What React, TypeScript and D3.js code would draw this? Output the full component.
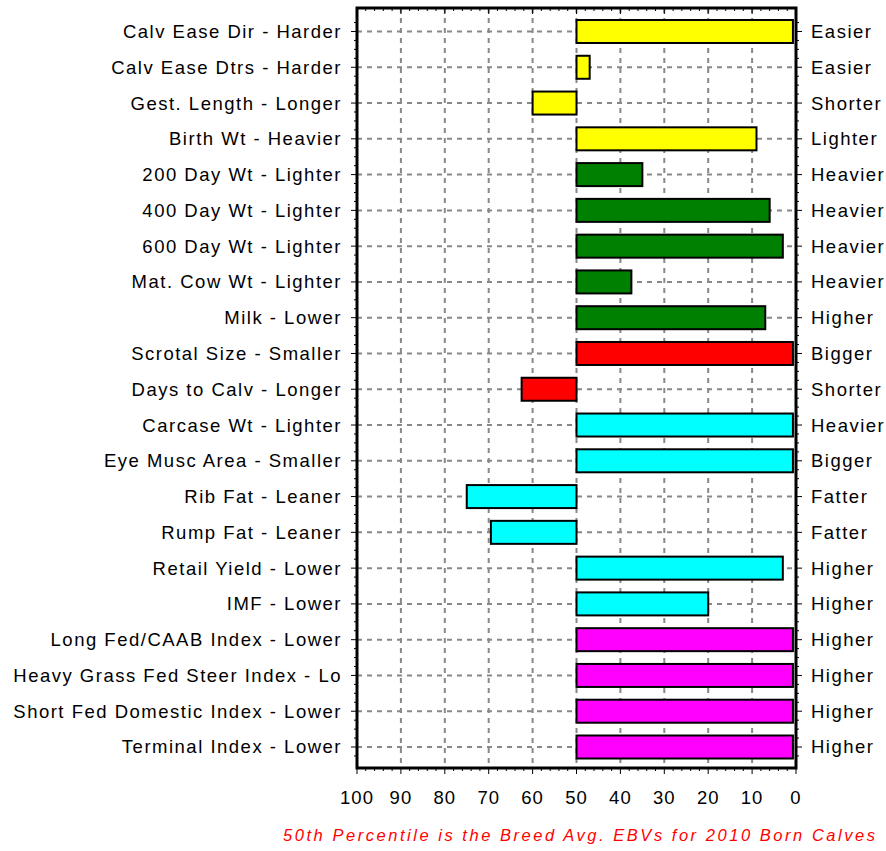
import React, { useEffect, useRef } from "react";
import * as d3 from "d3";

const traits = [
  "Calv Ease Dir - Harder",
  "Calv Ease Dtrs - Harder",
  "Gest. Length - Longer",
  "Birth Wt - Heavier",
  "200 Day Wt - Lighter",
  "400 Day Wt - Lighter",
  "600 Day Wt - Lighter",
  "Mat. Cow Wt - Lighter",
  "Milk - Lower",
  "Scrotal Size - Smaller",
  "Days to Calv - Longer",
  "Carcase Wt - Lighter",
  "Eye Musc Area - Smaller",
  "Rib Fat - Leaner",
  "Rump Fat - Leaner",
  "Retail Yield - Lower",
  "IMF - Lower",
  "Long Fed/CAAB Index - Lower",
  "Heavy Grass Fed Steer Index - Lo",
  "Short Fed Domestic Index - Lower",
  "Terminal Index - Lower",
];

const rightLabels = [
  "Easier", "Easier", "Shorter", "Lighter", "Heavier", "Heavier", "Heavier",
  "Heavier", "Higher", "Bigger", "Shorter", "Heavier", "Bigger", "Fatter",
  "Fatter", "Higher", "Higher", "Higher", "Higher", "Higher", "Higher",
];

const percentiles = [
  0.7, 47, 60, 9, 35, 6, 3, 37.5, 7, 0.7, 62.5, 0.7, 0.7, 75, 69.5, 3, 20, 0.7, 0.7, 0.7, 0.7,
];

const groups = [
  "calving", "calving", "calving", "calving",
  "growth", "growth", "growth", "growth", "growth",
  "fertility", "fertility",
  "carcase", "carcase", "carcase", "carcase", "carcase", "carcase",
  "index", "index", "index", "index",
];

const groupColors: Record<string, string> = {
  calving: "#ffff00",
  growth: "#008000",
  fertility: "#ff0000",
  carcase: "#00ffff",
  index: "#ff00ff",
};

const xTicks = [100, 90, 80, 70, 60, 50, 40, 30, 20, 10, 0];
const breedAvg = 50;
const footnote = "50th Percentile is the Breed Avg. EBVs for 2010 Born Calves";

const width = 886;
const height = 851;
const left = 357;
const right = 796;
const top = 8;
const bottom = 768;

const App: React.FC = () => {
  const svgRef = useRef<SVGSVGElement>(null);

  useEffect(() => {
    if (!svgRef.current) return;
    const svg = d3.select(svgRef.current);
    svg.selectAll("*").remove();

    const font = "'Liberation Sans', Arial, sans-serif";
    const labelSize = 18.5;
    const labelSpacing = 1.5;

    const x = d3.scaleLinear().domain([100, 0]).range([left, right]);
    const y = d3.scalePoint<string>().domain(traits).range([31.5, 747]);
    const step = y.step();
    const barH = 23;

    svg.append("rect").attr("width", width).attr("height", height).attr("fill", "#fff");

    // grid
    const grid = svg.append("g").attr("stroke", "#888").attr("stroke-width", 2).attr("stroke-dasharray", "5,5");
    xTicks.slice(1, -1).forEach((t) => {
      grid.append("line").attr("x1", x(t)).attr("x2", x(t)).attr("y1", top).attr("y2", bottom);
    });
    traits.forEach((t) => {
      grid.append("line").attr("x1", left).attr("x2", right).attr("y1", y(t)!).attr("y2", y(t)!);
    });

    // bars
    svg
      .append("g")
      .selectAll("rect")
      .data(traits)
      .join("rect")
      .attr("x", (_, i) => Math.min(x(breedAvg), x(percentiles[i])))
      .attr("width", (_, i) => Math.abs(x(percentiles[i]) - x(breedAvg)))
      .attr("y", (d) => y(d)! - barH / 2)
      .attr("height", barH)
      .attr("fill", (_, i) => groupColors[groups[i]])
      .attr("stroke", "#000")
      .attr("stroke-width", 2);

    // frame
    svg
      .append("rect")
      .attr("x", left)
      .attr("y", top)
      .attr("width", right - left)
      .attr("height", bottom - top)
      .attr("fill", "none")
      .attr("stroke", "#000")
      .attr("stroke-width", 3);

    // axis ticks
    const ticks = svg.append("g").attr("stroke", "#000").attr("stroke-width", 1);
    d3.range(0, 101, 2).forEach((v) => {
      const len = v % 10 === 0 ? 6 : 3;
      ticks.append("line").attr("x1", x(v)).attr("x2", x(v)).attr("y1", bottom).attr("y2", bottom + len);
      ticks.append("line").attr("x1", x(v)).attr("x2", x(v)).attr("y1", top).attr("y2", top + len);
    });
    traits.forEach((t, i) => {
      const yc = y(t)!;
      [left, right].forEach((px) => {
        const dir = px === left ? -1 : 1;
        ticks.append("line").attr("x1", px).attr("x2", px + dir * 6).attr("y1", yc).attr("y2", yc);
        [-0.25, 0.25, 0.5].forEach((f) => {
          if (i === traits.length - 1 && f === 0.5) return;
          ticks
            .append("line")
            .attr("x1", px)
            .attr("x2", px + dir * 3)
            .attr("y1", yc + f * step)
            .attr("y2", yc + f * step);
        });
      });
    });

    // labels
    svg
      .append("g")
      .selectAll("text")
      .data(traits)
      .join("text")
      .attr("x", 342)
      .attr("y", (d) => y(d)!)
      .attr("dy", "0.35em")
      .attr("text-anchor", "end")
      .attr("font-family", font)
      .attr("font-size", labelSize)
      .attr("letter-spacing", labelSpacing)
      .text((d) => d);

    svg
      .append("g")
      .selectAll("text")
      .data(rightLabels)
      .join("text")
      .attr("x", 811)
      .attr("y", (_, i) => y(traits[i])!)
      .attr("dy", "0.35em")
      .attr("font-family", font)
      .attr("font-size", labelSize)
      .attr("letter-spacing", labelSpacing)
      .text((d) => d);

    svg
      .append("g")
      .selectAll("text")
      .data(xTicks)
      .join("text")
      .attr("x", (d) => x(d))
      .attr("y", 798)
      .attr("dy", "0.35em")
      .attr("text-anchor", "middle")
      .attr("font-family", font)
      .attr("font-size", labelSize)
      .attr("letter-spacing", 1)
      .text((d) => d);

    svg
      .append("text")
      .attr("x", 283)
      .attr("y", 835)
      .attr("dy", "0.35em")
      .attr("font-family", font)
      .attr("font-size", 16.5)
      .attr("font-style", "italic")
      .attr("fill", "#ff0000")
      .attr("textLength", 592)
      .attr("lengthAdjust", "spacing")
      .text(footnote);
  }, []);

  return (
    <svg
      ref={svgRef}
      width={width}
      height={height}
      style={{ position: "absolute", left: 0, top: 0, display: "block" }}
    />
  );
};

export default App;
